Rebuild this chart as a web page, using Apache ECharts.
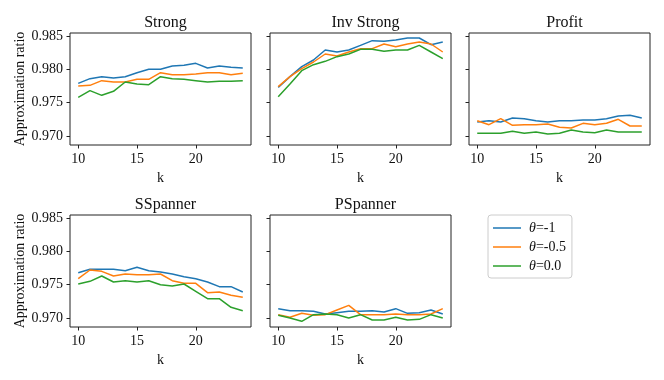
<!DOCTYPE html>
<html>
<head>
<meta charset="utf-8">
<script src="https://cdn.jsdelivr.net/npm/echarts@6/dist/echarts.min.js"></script>
<style>
  html, body { margin: 0; padding: 0; background: #fff; }
  #main { width: 664px; height: 380px; }
</style>
</head>
<body>
<div id="main"></div>
<script>
// k values on the x axis
const kValues = [10, 11, 12, 13, 14, 15, 16, 17, 18, 19, 20, 21, 22, 23, 24];
const thetaNames = ['θ=-1', 'θ=-0.5', 'θ=0.0'];
const panelTitles = ['Strong', 'Inv Strong', 'Profit', 'SSpanner', 'PSpanner'];
const xTicks = [10, 15, 20];
const yTicks = [0.970, 0.975, 0.980, 0.985];

// Strong
const strongA = [0.9779, 0.9786, 0.9789, 0.9787, 0.9789, 0.9795, 0.9800, 0.9800, 0.9805, 0.9806, 0.9809, 0.9802, 0.9805, 0.9803, 0.9802];
const strongB = [0.9775, 0.9776, 0.9783, 0.9781, 0.9781, 0.9785, 0.9785, 0.9795, 0.9792, 0.9792, 0.9793, 0.9795, 0.9795, 0.9792, 0.9794];
const strongC = [0.9758, 0.9768, 0.9761, 0.9767, 0.9781, 0.9778, 0.9777, 0.9789, 0.9786, 0.9785, 0.9783, 0.9781, 0.9782, 0.9782, 0.9783];
// Inv Strong
const invA = [0.9773, 0.9789, 0.9804, 0.9814, 0.9829, 0.9826, 0.9829, 0.9836, 0.9843, 0.9842, 0.9844, 0.9847, 0.9847, 0.9837, 0.9841];
const invB = [0.9774, 0.9789, 0.9801, 0.9811, 0.9823, 0.9820, 0.9826, 0.9831, 0.9831, 0.9838, 0.9834, 0.9838, 0.9841, 0.9838, 0.9826];
const invC = [0.9759, 0.9778, 0.9798, 0.9807, 0.9812, 0.9819, 0.9823, 0.9830, 0.9830, 0.9827, 0.9829, 0.9829, 0.9836, 0.9826, 0.9816];
// Profit
const profitA = [0.9721, 0.9723, 0.9721, 0.9727, 0.9726, 0.9723, 0.9721, 0.9723, 0.9723, 0.9724, 0.9724, 0.9726, 0.9730, 0.9731, 0.9727];
const profitB = [0.9723, 0.9717, 0.9726, 0.9716, 0.9717, 0.9717, 0.9718, 0.9713, 0.9712, 0.9719, 0.9717, 0.9719, 0.9725, 0.9715, 0.9715];
const profitC = [0.9704, 0.9704, 0.9704, 0.9707, 0.9704, 0.9706, 0.9703, 0.9704, 0.9709, 0.9706, 0.9705, 0.9709, 0.9706, 0.9706, 0.9706];
// SSpanner
const sspA = [0.9768, 0.9773, 0.9773, 0.9773, 0.9771, 0.9776, 0.9771, 0.9769, 0.9766, 0.9762, 0.9759, 0.9754, 0.9747, 0.9747, 0.9739];
const sspB = [0.9759, 0.9772, 0.9770, 0.9763, 0.9766, 0.9765, 0.9765, 0.9766, 0.9756, 0.9752, 0.9752, 0.9738, 0.9739, 0.9734, 0.9731];
const sspC = [0.9751, 0.9755, 0.9763, 0.9754, 0.9756, 0.9754, 0.9756, 0.9750, 0.9748, 0.9751, 0.9740, 0.9729, 0.9729, 0.9716, 0.9711];
// PSpanner
const pspA = [0.9714, 0.9711, 0.9711, 0.9710, 0.9706, 0.9708, 0.9710, 0.9710, 0.9711, 0.9709, 0.9714, 0.9707, 0.9708, 0.9712, 0.9706];
const pspB = [0.9705, 0.9701, 0.9707, 0.9704, 0.9705, 0.9712, 0.9719, 0.9705, 0.9705, 0.9705, 0.9706, 0.9705, 0.9705, 0.9706, 0.9714];
const pspC = [0.9704, 0.9700, 0.9695, 0.9705, 0.9706, 0.9705, 0.9700, 0.9705, 0.9697, 0.9697, 0.9701, 0.9697, 0.9698, 0.9705, 0.9700];

const panels = [
  [strongA, strongB, strongC],
  [invA, invB, invC],
  [profitA, profitB, profitC],
  [sspA, sspB, sspC],
  [pspA, pspB, pspC]
];

const colors = ['#1f77b4', '#ff7f0e', '#2ca02c'];
const font = '"Liberation Serif", "DejaVu Serif", serif';
const lefts = [70, 270, 469];
const tops = [33, 215];
const gw = 181, gh = 112;

const grids = [], xAxes = [], yAxes = [], titles = [], series = [];
panels.forEach(function (lines, p) {
  const col = p % 3, row = Math.floor(p / 3);
  grids.push({
    left: lefts[col], top: tops[row], width: gw, height: gh,
    show: true, borderColor: '#222', borderWidth: 1, backgroundColor: 'transparent'
  });
  titles.push({
    text: panelTitles[p],
    left: lefts[col] + gw / 2, top: tops[row] - 23, textAlign: 'center',
    textStyle: { fontFamily: font, fontSize: 16, fontWeight: 'normal', color: '#111' }
  });
  xAxes.push({
    type: 'value', gridIndex: p, min: 9.3, max: 24.7,
    name: 'k', nameLocation: 'middle', nameGap: 26,
    nameTextStyle: { fontFamily: font, fontSize: 14, color: '#111' },
    axisLine: { show: false }, splitLine: { show: false },
    axisTick: { show: true, length: 3.5, lineStyle: { color: '#222' }, customValues: xTicks },
    axisLabel: { fontFamily: font, fontSize: 14, color: '#111', margin: 7, customValues: xTicks }
  });
  yAxes.push({
    type: 'value', gridIndex: p, min: 0.96865, max: 0.98545,
    name: col === 0 ? 'Approximation ratio' : '', nameLocation: 'middle', nameGap: 42,
    nameTextStyle: { fontFamily: font, fontSize: 14, color: '#111' },
    axisLine: { show: false }, splitLine: { show: false },
    axisTick: { show: true, length: 3.5, lineStyle: { color: '#222' }, customValues: yTicks },
    axisLabel: {
      show: col === 0, fontFamily: font, fontSize: 14, color: '#111', margin: 7,
      customValues: yTicks, formatter: function (v) { return v.toFixed(3); }
    }
  });
  lines.forEach(function (vals, s) {
    series.push({
      name: thetaNames[s], type: 'line', xAxisIndex: p, yAxisIndex: p,
      symbol: 'none', color: colors[s],
      lineStyle: { width: 1.5, color: colors[s] },
      data: kValues.map(function (k, i) { return [k, vals[i]]; })
    });
  });
});

const myChart = echarts.init(document.getElementById('main'), null, { renderer: 'canvas' });
myChart.setOption({
  animation: false,
  backgroundColor: '#fff',
  title: titles,
  grid: grids,
  xAxis: xAxes,
  yAxis: yAxes,
  legend: {
    data: thetaNames, orient: 'vertical', left: 488, top: 215,
    icon: 'path://M0,0h28v1.5h-28z',
    itemWidth: 28, itemHeight: 14, itemGap: 5,
    padding: [6, 6, 5, 5],
    borderColor: '#ccc', borderWidth: 1, borderRadius: 3,
    formatter: function (name) { return '{it|θ}' + name.slice(1); },
    textStyle: {
      fontFamily: font, fontSize: 14, color: '#111', padding: [0, 0, 0, 3],
      rich: { it: { fontFamily: font, fontSize: 14, fontStyle: 'italic', color: '#111' } }
    }
  },
  series: series
});
</script>
</body>
</html>
